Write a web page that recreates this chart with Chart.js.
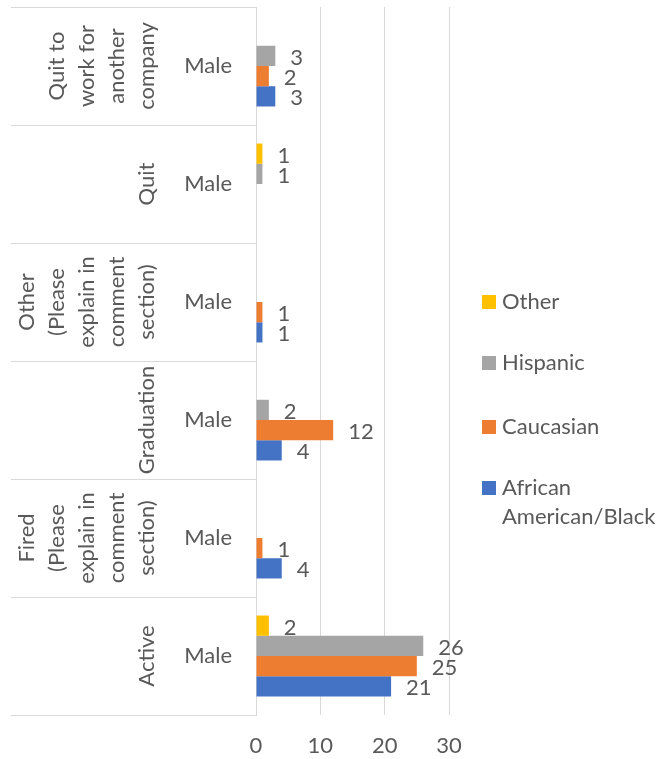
<!DOCTYPE html>
<html>
<head>
<meta charset="UTF-8">
<title>Status by race</title>
<script src="https://cdn.jsdelivr.net/npm/chart.js"></script>
<style>
  body { margin: 0; background: #fff; }
  #wrap { width: 667px; height: 759px; position: relative; }
</style>
</head>
<body>
<div id="wrap"><canvas id="c" width="667" height="759"></canvas></div>
<script>
// categories, top to bottom (outer level), inner level is always "Male"
const categories = ["Quit to work for another company", "Quit", "Other (Please explain in comment section)", "Graduation", "Fired (Please explain in comment section)", "Active"];
const outerLines = [["Quit to", "work for", "another", "company"], ["Quit"], ["Other", "(Please", "explain in", "comment", "section)"], ["Graduation"], ["Fired", "(Please", "explain in", "comment", "section)"], ["Active"]];
const innerLabel = "Male";

// series
const seriesNames = ["Other", "Hispanic", "Caucasian", "African American/Black"];
const legendLines = [["Other"], ["Hispanic"], ["Caucasian"], ["African", "American/Black"]];
const otherVals = [null, 1, null, null, null, 2];
const hispanicVals = [3, 1, null, 2, null, 26];
const caucasianVals = [2, null, 1, 12, 1, 25];
const africanVals = [3, null, 1, 4, 4, 21];

// x axis ticks
const xTicks = [0, 10, 20, 30];

const colors = ["#FFC000", "#A5A5A5", "#ED7D31", "#4472C4"];
const txt = "#595959";
const line = "#D9D9D9";
const FONT = "Lato";
const FS = 22;

// draws the two-level category table on the left
const tablePlugin = {
    id: 'table',
    afterDraw(chart) {
        const ctx = chart.ctx;
        const a = chart.chartArea;
        const y = chart.scales.y;
        const band = (a.bottom - a.top) / categories.length;
        ctx.save();
        ctx.strokeStyle = line;
        ctx.lineWidth = 1;
        for (let i = 0; i <= categories.length; i++) {
            const yy = Math.round(a.top + i * band) + 0.5;
            ctx.beginPath();
            ctx.moveTo(11, yy);
            ctx.lineTo(a.left, yy);
            ctx.stroke();
        }
        ctx.fillStyle = txt;
        ctx.font = FS + "px " + FONT;
        for (let i = 0; i < categories.length; i++) {
            const cy = y.getPixelForValue(i);
            // inner label
            ctx.textAlign = 'right';
            ctx.textBaseline = 'middle';
            ctx.fillText(innerLabel, a.left - 24, cy);
            // outer label, rotated
            const ls = outerLines[i];
            ctx.textAlign = 'center';
            for (let k = 0; k < ls.length; k++) {
                const x = 147 - (ls.length - 1 - k) * 30;
                ctx.save();
                ctx.translate(x, cy);
                ctx.rotate(-Math.PI / 2);
                ctx.fillText(ls[k], 0, 0);
                ctx.restore();
            }
        }
        ctx.restore();
    }
};

// value labels at bar ends
const valuePlugin = {
    id: 'values',
    afterDatasetsDraw(chart) {
        const ctx = chart.ctx;
        ctx.save();
        ctx.fillStyle = txt;
        ctx.font = FS + "px " + FONT;
        ctx.textAlign = 'left';
        ctx.textBaseline = 'middle';
        chart.data.datasets.forEach((ds, di) => {
            const meta = chart.getDatasetMeta(di);
            meta.data.forEach((bar, i) => {
                const v = ds.data[i];
                if (v === null || v === undefined) return;
                ctx.fillText(String(v), bar.x + 15, bar.y + 2);
            });
        });
        ctx.restore();
    }
};

// legend on the right, with wrapping
const legendPlugin = {
    id: 'sideLegend',
    afterDraw(chart) {
        const ctx = chart.ctx;
        const rows = [302, 363, 427, 488];
        ctx.save();
        ctx.font = FS + "px " + FONT;
        ctx.textAlign = 'left';
        ctx.textBaseline = 'middle';
        legendLines.forEach((ls, i) => {
            ctx.fillStyle = colors[i];
            ctx.fillRect(482, rows[i] - 7, 14, 14);
            ctx.fillStyle = txt;
            ls.forEach((t, k) => ctx.fillText(t, 502, rows[i] + k * 29));
        });
        ctx.restore();
    }
};

new Chart(document.getElementById('c'), {
    type: 'bar',
    data: {
        labels: categories,
        datasets: [
            { label: seriesNames[0], data: otherVals, backgroundColor: colors[0] },
            { label: seriesNames[1], data: hispanicVals, backgroundColor: colors[1] },
            { label: seriesNames[2], data: caucasianVals, backgroundColor: colors[2] },
            { label: seriesNames[3], data: africanVals, backgroundColor: colors[3] }
        ]
    },
    options: {
        indexAxis: 'y',
        responsive: false,
        animation: false,
        categoryPercentage: 0.686,
        barPercentage: 1.0,
        layout: { padding: { top: 7, right: 218, left: 0, bottom: 0 } },
        plugins: {
            legend: { display: false },
            tooltip: { enabled: false }
        },
        scales: {
            x: {
                min: 0,
                max: 30,
                afterBuildTicks: (s) => { s.ticks = xTicks.map(v => ({ value: v })); },
                afterFit: (s) => { s.height = 44; },
                grid: { color: line, drawTicks: false },
                border: { display: false },
                ticks: { color: txt, padding: 18, font: { family: FONT, size: FS } }
            },
            y: {
                afterFit: (s) => { s.width = 256; },
                grid: { display: false },
                border: { display: true, color: line },
                ticks: { display: false }
            }
        }
    },
    plugins: [tablePlugin, valuePlugin, legendPlugin]
});
</script>
</body>
</html>
